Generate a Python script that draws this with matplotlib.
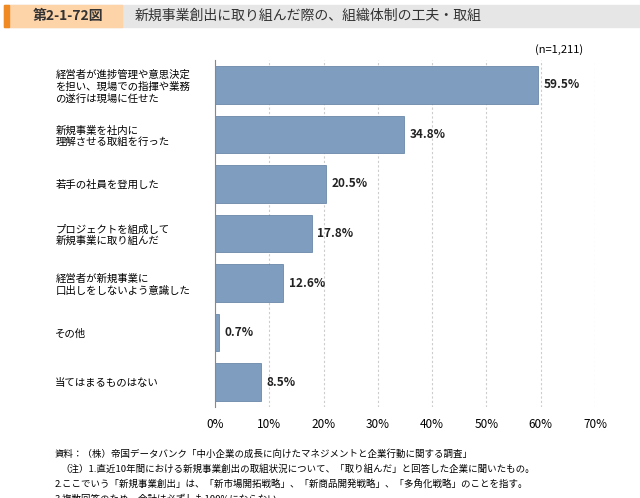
import matplotlib
matplotlib.use("Agg")
import matplotlib.pyplot as plt
from matplotlib.patches import Rectangle

plt.rcParams["font.family"] = "Noto Sans CJK JP"

categories = ["経営者が進捗管理や意思決定\nを担い、現場での指揮や業務\nの遂行は現場に任せた",
              "新規事業を社内に\n理解させる取組を行った",
              "若手の社員を登用した",
              "プロジェクトを組成して\n新規事業に取り組んだ",
              "経営者が新規事業に\n口出しをしないよう意識した",
              "その他",
              "当てはまるものはない"]
values = [59.5, 34.8, 20.5, 17.8, 12.6, 0.7, 8.5]
xticks = [0, 10, 20, 30, 40, 50, 60, 70]

fig = plt.figure(figsize=(6.4, 4.98), dpi=100)
# header
fig.patches.append(Rectangle((4/640, 1-27/498), 636/640, 22/498, transform=fig.transFigure, color="#e6e6e6", zorder=0))
fig.patches.append(Rectangle((4/640, 1-27/498), 118/640, 22/498, transform=fig.transFigure, color="#fdd3a8", zorder=1))
fig.patches.append(Rectangle((4/640, 1-27/498), 5/640, 22/498, transform=fig.transFigure, color="#f08a24", zorder=2))
fig.text(33/640, 1-16/498, "第2-1-72図", fontsize=10, fontweight="bold", va="center", color="#333333")
fig.text(135/640, 1-16/498, "新規事業創出に取り組んだ際の、組織体制の工夫・取組", fontsize=10, va="center", color="#333333")

ax = fig.add_axes([215/640, 1-407/498, 380/640, 347/498])
y = list(range(len(categories)))
ax.barh(y, values, height=0.76, color="#7f9dbf", edgecolor="#5a7aa0", linewidth=0.5)
for yi, v in zip(y, values):
    ax.text(v + 1, yi, f"{v}%", va="center", ha="left", fontsize=8.5, fontweight="bold", color="#222222")
ax.set_ylim(len(categories) - 0.5, -0.5)
ax.set_xlim(0, 70)
ax.set_xticks(xticks)
ax.set_xticklabels([f"{t}%" for t in xticks], fontsize=8.5)
ax.set_yticks(y)
ax.set_yticklabels(categories, fontsize=7.5, ha="left", linespacing=1.2)
ax.tick_params(axis="y", length=0, pad=115)
ax.tick_params(axis="x", length=0, pad=8)
for s in ["top", "right", "bottom"]:
    ax.spines[s].set_visible(False)
ax.spines["left"].set_color("#888888")
ax.xaxis.grid(True, color="#cccccc", linestyle=(0, (2, 2)), linewidth=0.8)
ax.set_axisbelow(True)
fig.text(583/640, 1-50/498, "(n=1,211)", fontsize=8, ha="right", va="center")

notes = ["資料：（株）帝国データバンク「中小企業の成長に向けたマネジメントと企業行動に関する調査」",
         "（注）1.直近10年間における新規事業創出の取組状況について、「取り組んだ」と回答した企業に聞いたもの。",
         "2.ここでいう「新規事業創出」は、「新市場開拓戦略」、「新商品開発戦略」、「多角化戦略」のことを指す。",
         "3.複数回答のため、合計は必ずしも100%にならない。"]
for i, t in enumerate(notes):
    fig.text(55/640 if i != 1 else 60/640, 1-(454 + i*15)/498, t, fontsize=6.8, va="center")

fig.savefig("out.png", dpi=100)
